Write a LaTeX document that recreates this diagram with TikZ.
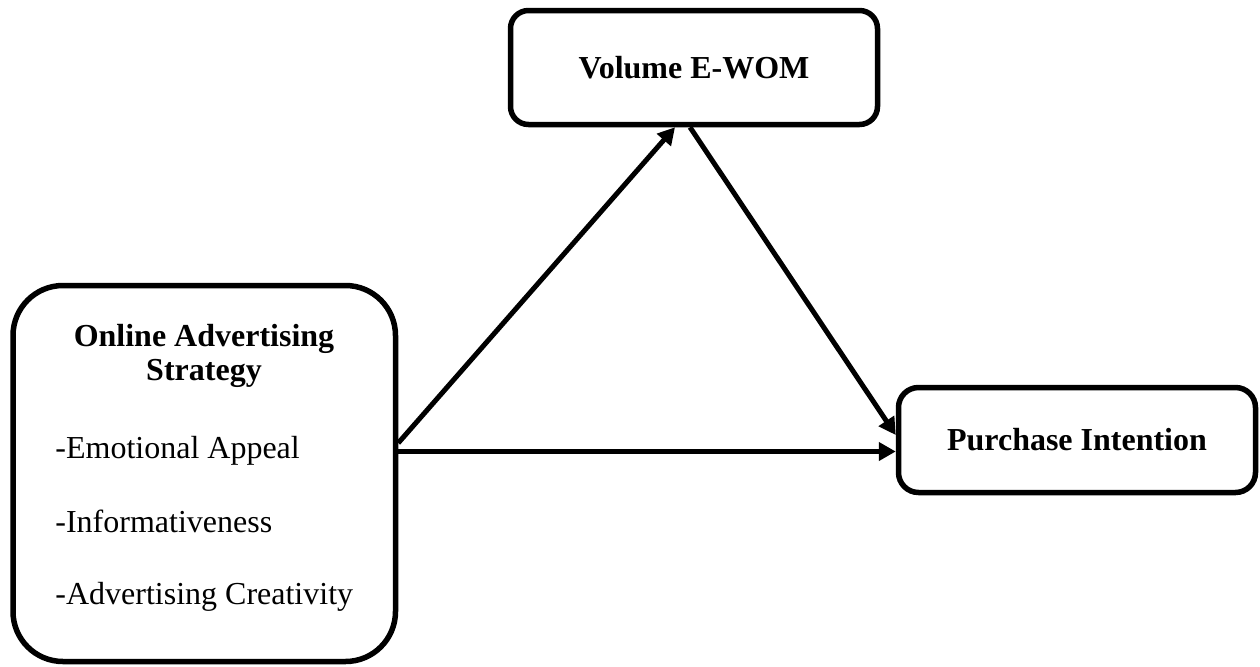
\documentclass[tikz,border=0pt]{standalone}
\usepackage{fontspec}
\setmainfont{Liberation Serif}
\usetikzlibrary{arrows.meta}
\begin{document}
\begin{tikzpicture}[x=0.5pt,y=-0.5pt,
  box/.style={draw=black, line width=2.75pt, fill=white, inner sep=0pt, align=center,
    font=\fontsize{16pt}{19pt}\selectfont\bfseries},
  txt/.style={inner sep=0pt, font=\fontsize{16pt}{19pt}\selectfont},
  conn/.style={line width=2.5pt, -{Triangle[length=8.5pt,width=9pt]}}]
\useasboundingbox (0,0) rectangle (1260,666);
% boxes
\node[box, rounded corners=25pt, minimum width=191.25pt, minimum height=188pt] (osa) at (204.25,473.5) {};
\node[box, rounded corners=9pt, minimum width=183.5pt, minimum height=57pt] (vol) at (694,67.5) {Volume E-WOM};
\node[box, rounded corners=10pt, minimum width=178.5pt, minimum height=52.5pt] (pi) at (1077,440) {Purchase Intention};
% left box texts
\node[txt, font=\fontsize{16pt}{19pt}\selectfont\bfseries, anchor=base] (t1) at (204,346) {Online Advertising};
\node[txt, font=\fontsize{16pt}{19pt}\selectfont\bfseries, anchor=base] (t2) at (204,380) {Strategy};
\node[txt, anchor=base west] (t3) at (55,458) {-Emotional Appeal};
\node[txt, anchor=base west] (t4) at (55,532) {-Informativeness};
\node[txt, anchor=base west] (t5) at (55,604) {-Advertising Creativity};
% connectors
\draw[conn] ([yshift=11pt]osa.east) -- ([yshift=-5.75pt]pi.west);
\draw[conn] ([yshift=15.25pt]osa.east) -- ([xshift=-9.5pt]vol.south);
\draw[conn] ([xshift=-2pt]vol.south) -- ([yshift=2.5pt]pi.west);
\end{tikzpicture}
\end{document}
